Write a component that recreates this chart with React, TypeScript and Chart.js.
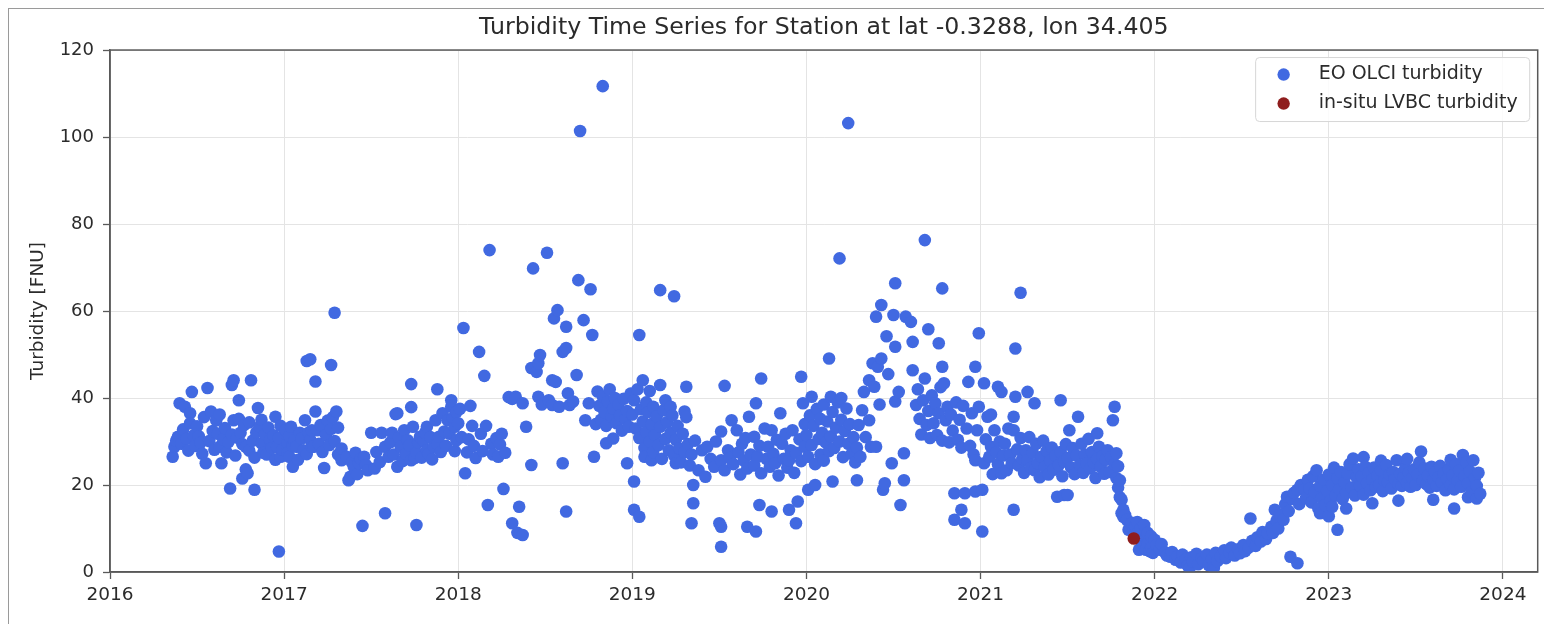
import React, { useEffect, useRef } from "react";
import { Chart, registerables } from "chart.js";

Chart.register(...registerables);

const TITLE = "Turbidity Time Series for Station at lat -0.3288, lon 34.405";
const Y_LABEL = "Turbidity [FNU]";
const SERIES_LABELS = ["EO OLCI turbidity", "in-situ LVBC turbidity"];
const X_TICKS = [2016, 2017, 2018, 2019, 2020, 2021, 2022, 2023, 2024];
const Y_TICKS = [0, 20, 40, 60, 80, 100, 120];

// [decimal year, turbidity FNU]
const eo2016: [number, number][] = [
  [2016.36,26.5],[2016.37,28.8],[2016.38,30.2],[2016.39,31.1],[2016.40,38.8],[2016.41,29.5],[2016.42,32.8],[2016.43,38.0],
  [2016.44,30.6],[2016.45,27.9],[2016.46,36.5],[2016.46,34.2],[2016.47,41.4],[2016.48,31.4],[2016.49,29.0],[2016.50,33.5],
  [2016.51,31.2],[2016.52,29.7],[2016.53,27.2],[2016.54,35.6],[2016.55,25.0],[2016.56,42.3],[2016.57,30.1],[2016.58,36.9],
  [2016.59,32.4],[2016.60,28.1],[2016.61,34.9],[2016.62,31.8],[2016.63,28.8],[2016.63,36.2],[2016.64,25.0],[2016.65,30.5],
  [2016.66,33.1],[2016.67,27.5],[2016.68,29.9],[2016.69,19.2],[2016.70,43.0],[2016.70,31.6],[2016.71,44.1],[2016.71,34.9],
  [2016.72,26.8],[2016.73,30.9],[2016.74,39.5],[2016.74,35.2],[2016.75,32.0],[2016.76,29.4],[2016.76,21.5],[2016.77,33.8],
  [2016.78,28.8],[2016.78,23.6],[2016.79,22.7],[2016.80,27.9],[2016.80,34.4],[2016.81,44.1],[2016.82,30.2],[2016.83,18.9],
  [2016.83,26.3],[2016.84,32.1],[2016.85,37.7],[2016.86,33.4],[2016.87,29.6],[2016.87,35.0],[2016.88,27.4],[2016.89,31.7],
  [2016.90,27.0],[2016.91,33.2],[2016.92,30.3],[2016.93,28.5],[2016.94,31.4],[2016.95,35.7],[2016.95,25.8],[2016.96,28.8],
  [2016.97,30.8],[2016.97,4.7],[2016.98,26.5],[2016.98,33.6],[2016.99,28.1],
];

const eo2017: [number, number][] = [
  [2017.01,32.6],[2017.02,29.7],[2017.02,27.4],[2017.03,26.5],[2017.03,31.2],[2017.04,33.4],[2017.05,24.2],[2017.05,29.0],
  [2017.06,30.3],[2017.07,28.8],[2017.08,25.8],[2017.09,32.0],[2017.10,30.7],[2017.11,28.0],[2017.12,34.9],[2017.13,27.1],
  [2017.13,48.5],[2017.14,32.0],[2017.15,48.9],[2017.15,30.4],[2017.16,32.6],[2017.16,28.8],[2017.17,28.8],[2017.18,36.9],
  [2017.18,43.8],[2017.19,32.6],[2017.20,29.5],[2017.21,33.8],[2017.22,27.6],[2017.23,23.9],[2017.24,31.5],[2017.25,34.8],
  [2017.26,29.2],[2017.27,32.9],[2017.27,47.6],[2017.28,35.6],[2017.29,30.1],[2017.29,59.6],[2017.30,36.9],[2017.31,27.0],
  [2017.31,33.2],[2017.33,28.4],[2017.33,25.7],[2017.36,26.5],[2017.37,21.1],[2017.38,21.9],[2017.39,25.2],[2017.40,24.2],
  [2017.41,27.4],[2017.42,22.5],[2017.43,25.0],[2017.44,26.0],[2017.45,10.6],[2017.46,26.5],[2017.47,24.6],[2017.48,23.4],
  [2017.50,32.0],[2017.52,23.8],[2017.53,27.6],[2017.55,25.3],[2017.56,32.0],[2017.58,28.8],[2017.58,13.5],[2017.60,26.5],
  [2017.61,29.8],[2017.62,32.0],[2017.63,27.0],[2017.64,36.3],[2017.65,24.2],[2017.65,36.5],[2017.66,30.9],[2017.67,28.8],
  [2017.68,25.5],[2017.69,32.6],[2017.70,27.2],[2017.71,30.3],[2017.72,29.1],[2017.73,25.7],[2017.73,43.2],[2017.73,37.9],
  [2017.74,33.4],[2017.75,26.2],[2017.76,27.4],[2017.76,10.8],[2017.77,29.8],[2017.78,31.1],[2017.79,26.3],[2017.80,30.2],
  [2017.81,32.0],[2017.82,33.4],[2017.82,28.0],[2017.83,27.2],[2017.84,31.0],[2017.85,25.9],[2017.86,28.8],[2017.87,34.9],
  [2017.88,42.0],[2017.88,29.5],[2017.89,31.1],[2017.90,27.6],[2017.91,36.5],[2017.92,32.3],[2017.93,29.0],[2017.94,34.9],
  [2017.95,31.8],[2017.96,38.0],[2017.96,39.5],[2017.97,35.4],[2017.98,33.4],[2017.98,27.8],[2017.99,30.3],[2017.99,36.8],
];

const eo2018: [number, number][] = [
  [2018.00,34.2],[2018.01,37.5],[2018.02,31.0],[2018.03,56.1],[2018.04,22.7],[2018.05,27.5],[2018.06,30.5],[2018.07,38.2],
  [2018.08,33.6],[2018.09,29.0],[2018.10,26.2],[2018.12,50.6],[2018.13,31.8],[2018.14,27.8],[2018.15,45.1],[2018.16,33.6],
  [2018.17,15.4],[2018.18,74.0],[2018.19,29.5],[2018.20,27.0],[2018.22,30.8],[2018.23,26.5],[2018.24,29.3],[2018.25,31.8],
  [2018.26,19.1],[2018.27,27.4],[2018.29,40.2],[2018.31,11.2],[2018.31,39.8],[2018.33,40.3],[2018.34,9.0],[2018.35,15.0],
  [2018.37,8.5],[2018.37,38.8],[2018.39,33.4],[2018.42,24.6],[2018.42,46.9],[2018.43,69.8],[2018.45,46.0],[2018.46,48.0],
  [2018.46,40.3],[2018.47,49.9],[2018.48,38.5],[2018.51,73.4],[2018.52,39.5],[2018.54,38.4],[2018.54,44.1],[2018.55,58.3],
  [2018.56,43.7],[2018.57,60.2],[2018.58,38.0],[2018.60,50.6],[2018.60,25.0],[2018.62,51.5],[2018.62,56.4],[2018.62,13.9],
  [2018.63,41.1],[2018.64,38.4],[2018.66,39.2],[2018.68,45.3],[2018.69,67.1],[2018.70,101.4],[2018.72,57.9],[2018.73,34.9],
  [2018.75,38.8],[2018.76,65.0],[2018.77,54.5],[2018.78,26.5],[2018.79,34.0],[2018.80,41.5],[2018.81,38.2],[2018.82,35.0],
  [2018.83,111.7],[2018.83,40.4],[2018.84,36.8],[2018.85,33.6],[2018.85,29.6],[2018.86,39.2],[2018.87,42.0],[2018.88,35.8],
  [2018.89,30.7],[2018.89,37.6],[2018.90,40.0],[2018.91,34.2],[2018.92,38.5],[2018.93,36.0],[2018.94,32.5],[2018.95,39.8],
  [2018.96,35.2],[2018.97,25.0],[2018.97,37.0],[2018.98,33.4],[2018.99,41.0],
];

const eo2019: [number, number][] = [
  [2019.00,36.2],[2019.01,20.8],[2019.01,14.3],[2019.01,39.5],[2019.02,33.0],[2019.03,42.0],[2019.04,12.7],[2019.04,54.5],
  [2019.04,30.8],[2019.05,37.4],[2019.06,44.1],[2019.06,34.6],[2019.07,28.5],[2019.07,26.5],[2019.08,39.0],[2019.08,32.2],
  [2019.09,36.8],[2019.10,30.0],[2019.10,41.6],[2019.11,34.0],[2019.11,25.7],[2019.12,27.6],[2019.12,38.0],[2019.13,31.5],
  [2019.14,35.8],[2019.15,29.2],[2019.16,43.0],[2019.16,64.8],[2019.16,33.4],[2019.17,26.0],[2019.18,37.2],[2019.19,30.6],
  [2019.19,39.5],[2019.20,34.5],[2019.21,28.0],[2019.22,32.0],[2019.22,38.0],[2019.23,36.0],[2019.24,63.4],[2019.24,26.8],
  [2019.25,30.4],[2019.25,25.0],[2019.26,33.6],[2019.27,28.4],[2019.28,25.2],[2019.29,31.8],[2019.30,27.6],[2019.30,36.9],
  [2019.31,42.6],[2019.31,35.6],[2019.32,29.4],[2019.33,24.5],[2019.34,11.2],[2019.34,27.0],[2019.35,15.8],[2019.35,20.0],
  [2019.36,30.2],[2019.38,23.4],[2019.40,28.0],[2019.42,21.9],[2019.43,28.8],[2019.45,26.0],[2019.47,24.2],[2019.48,30.0],
  [2019.50,11.2],[2019.51,10.4],[2019.51,5.8],[2019.51,32.3],[2019.51,25.7],[2019.53,42.8],[2019.53,23.4],[2019.55,28.0],
  [2019.56,26.2],[2019.57,34.9],[2019.58,24.8],[2019.60,32.6],[2019.61,27.5],[2019.62,22.4],[2019.63,29.5],[2019.64,25.6],
  [2019.65,30.8],[2019.66,10.4],[2019.66,23.8],[2019.67,35.7],[2019.68,27.0],[2019.70,31.1],[2019.70,24.5],[2019.71,9.3],
  [2019.71,38.8],[2019.72,26.5],[2019.73,15.4],[2019.73,29.0],[2019.74,44.5],[2019.74,22.7],[2019.76,33.0],[2019.77,26.0],
  [2019.78,28.8],[2019.79,24.2],[2019.80,13.9],[2019.80,32.6],[2019.81,27.2],[2019.82,25.0],[2019.83,30.4],[2019.84,22.2],
  [2019.85,36.5],[2019.86,29.5],[2019.87,26.0],[2019.88,31.8],[2019.89,24.0],[2019.90,14.3],[2019.90,25.7],[2019.91,28.0],
  [2019.92,32.6],[2019.93,22.8],[2019.94,11.2],[2019.94,27.4],[2019.95,16.2],[2019.96,30.5],[2019.97,44.9],[2019.97,25.5],
  [2019.98,38.8],[2019.99,28.8],[2019.99,34.0],
];

const eo2020: [number, number][] = [
  [2020.00,31.5],[2020.01,18.9],[2020.01,26.5],[2020.02,36.0],[2020.03,40.3],[2020.03,29.2],[2020.04,33.6],[2020.05,20.0],
  [2020.05,24.8],[2020.06,37.5],[2020.07,30.6],[2020.08,27.0],[2020.08,35.2],[2020.09,32.0],[2020.10,38.5],[2020.10,25.6],
  [2020.11,29.8],[2020.12,34.6],[2020.13,49.1],[2020.13,27.8],[2020.14,40.3],[2020.14,31.2],[2020.15,20.8],[2020.15,36.8],
  [2020.16,28.5],[2020.17,33.2],[2020.18,39.0],[2020.19,72.1],[2020.19,30.0],[2020.20,40.0],[2020.20,35.0],[2020.21,26.4],
  [2020.22,32.4],[2020.23,37.6],[2020.24,103.2],[2020.24,29.5],[2020.25,34.0],[2020.26,27.2],[2020.27,31.0],[2020.28,25.2],
  [2020.29,21.1],[2020.29,28.6],[2020.30,33.8],[2020.31,26.5],[2020.32,37.2],[2020.33,41.4],[2020.34,31.0],[2020.36,34.9],
  [2020.36,44.1],[2020.37,28.8],[2020.38,48.0],[2020.39,42.6],[2020.40,58.7],[2020.40,28.8],[2020.41,47.2],[2020.42,38.5],
  [2020.43,61.4],[2020.43,49.1],[2020.44,18.9],[2020.45,20.4],[2020.46,54.2],[2020.47,45.5],[2020.49,25.0],[2020.50,59.1],
  [2020.51,66.4],[2020.51,51.8],[2020.51,39.2],[2020.53,41.4],[2020.54,15.4],[2020.56,27.3],[2020.56,21.1],[2020.57,58.7],
  [2020.60,57.5],[2020.61,52.9],[2020.61,46.4],[2020.63,38.4],[2020.64,42.0],[2020.65,35.2],[2020.66,31.6],[2020.67,39.5],
  [2020.68,76.3],[2020.68,44.5],[2020.69,33.8],[2020.70,55.8],[2020.70,37.0],[2020.71,30.8],[2020.72,40.6],[2020.73,34.2],
  [2020.74,38.8],[2020.75,31.5],[2020.76,52.6],[2020.76,36.5],[2020.77,42.5],[2020.78,65.2],[2020.78,47.2],[2020.78,30.2],
  [2020.79,43.4],[2020.80,34.9],[2020.81,38.0],[2020.82,29.8],[2020.83,36.2],[2020.84,32.5],[2020.85,18.1],[2020.85,12.0],
  [2020.86,39.0],[2020.87,30.4],[2020.88,35.0],[2020.89,14.3],[2020.89,28.6],[2020.90,38.2],[2020.91,18.1],[2020.91,11.2],
  [2020.92,33.0],[2020.93,43.7],[2020.94,29.0],[2020.95,36.5],[2020.96,27.0],[2020.97,47.2],[2020.97,18.5],[2020.97,25.7],
  [2020.98,32.6],[2020.99,54.9],[2020.99,38.0],
];

const eo2021: [number, number][] = [
  [2021.01,18.9],[2021.01,9.3],[2021.02,43.4],[2021.02,25.0],[2021.03,30.5],[2021.04,35.7],[2021.05,26.5],[2021.06,28.8],
  [2021.06,36.2],[2021.07,22.5],[2021.08,32.6],[2021.09,27.5],[2021.10,42.6],[2021.10,24.8],[2021.11,30.0],[2021.12,41.4],
  [2021.12,22.7],[2021.13,26.8],[2021.14,29.5],[2021.15,23.4],[2021.16,33.0],[2021.17,27.0],[2021.18,25.0],[2021.19,14.3],
  [2021.19,35.7],[2021.19,32.6],[2021.20,51.4],[2021.20,40.3],[2021.21,28.2],[2021.22,24.5],[2021.23,64.2],[2021.23,30.8],
  [2021.24,26.0],[2021.25,22.8],[2021.26,28.0],[2021.27,41.4],[2021.27,25.7],[2021.28,31.0],[2021.29,24.0],[2021.30,27.4],
  [2021.31,38.8],[2021.31,23.4],[2021.32,29.5],[2021.33,25.0],[2021.34,21.8],[2021.35,26.5],[2021.36,30.2],[2021.37,24.2],
  [2021.38,27.8],[2021.39,22.4],[2021.40,25.6],[2021.41,28.6],[2021.42,23.5],[2021.43,26.8],[2021.44,17.3],[2021.45,24.6],
  [2021.46,39.5],[2021.46,27.6],[2021.47,22.0],[2021.48,17.7],[2021.48,25.4],[2021.49,29.4],[2021.50,17.7],[2021.50,26.2],
  [2021.51,32.6],[2021.52,24.0],[2021.53,28.5],[2021.54,22.5],[2021.55,26.8],[2021.56,35.7],[2021.57,24.6],[2021.58,29.5],
  [2021.59,22.8],[2021.60,27.0],[2021.61,25.0],[2021.62,30.6],[2021.63,23.8],[2021.64,27.6],[2021.65,25.2],[2021.66,21.6],
  [2021.67,31.9],[2021.67,26.0],[2021.68,28.8],[2021.69,24.2],[2021.70,26.6],[2021.71,22.6],[2021.72,25.8],[2021.73,28.0],
  [2021.74,23.0],[2021.75,26.4],[2021.76,34.9],[2021.77,38.0],[2021.77,24.8],[2021.78,27.3],[2021.78,21.6],[2021.79,24.3],
  [2021.79,19.4],[2021.80,21.1],[2021.80,17.2],[2021.81,16.6],[2021.81,13.5],[2021.82,14.3],[2021.82,12.7],[2021.83,13.1],
  [2021.84,12.0],[2021.85,9.7],[2021.86,10.4],[2021.87,11.3],[2021.88,9.7],[2021.89,10.4],[2021.90,8.9],[2021.90,11.5],
  [2021.91,5.1],[2021.92,7.4],[2021.92,10.0],[2021.93,7.0],[2021.94,6.0],[2021.94,10.8],[2021.95,5.1],[2021.96,6.5],
  [2021.96,9.0],[2021.97,4.8],[2021.98,5.6],[2021.98,8.2],[2021.99,4.4],
];

const eo2022: [number, number][] = [
  [2022.00,7.4],[2022.01,6.2],[2022.03,5.1],[2022.04,6.4],[2022.06,4.5],[2022.07,3.8],[2022.09,3.5],[2022.10,4.6],
  [2022.12,2.8],[2022.13,3.6],[2022.15,2.2],[2022.16,4.0],[2022.18,3.0],[2022.19,1.5],[2022.20,0.8],[2022.21,3.4],
  [2022.22,2.4],[2022.24,4.2],[2022.25,1.8],[2022.27,3.2],[2022.28,2.6],[2022.30,4.0],[2022.31,1.6],[2022.33,3.0],
  [2022.34,0.9],[2022.35,4.4],[2022.36,2.5],[2022.38,3.6],[2022.40,5.0],[2022.41,3.2],[2022.43,4.4],[2022.44,5.6],
  [2022.46,3.8],[2022.48,5.2],[2022.49,4.3],[2022.51,6.2],[2022.52,4.8],[2022.54,5.6],[2022.55,12.3],[2022.56,7.2],
  [2022.58,6.0],[2022.59,8.0],[2022.61,7.0],[2022.62,9.2],[2022.64,7.6],[2022.65,8.9],[2022.67,10.4],[2022.68,9.0],
  [2022.69,14.3],[2022.70,11.8],[2022.71,10.0],[2022.72,13.2],[2022.74,12.0],[2022.75,15.6],[2022.76,17.3],[2022.77,14.0],
  [2022.78,3.5],[2022.79,16.8],[2022.80,18.2],[2022.82,2.0],[2022.82,18.9],[2022.83,15.6],[2022.84,20.0],[2022.86,18.9],
  [2022.87,17.0],[2022.88,21.2],[2022.89,19.2],
];

const eo2023: [number, number][] = [
  [2022.90,16.0],[2022.91,22.0],[2022.92,18.4],[2022.93,23.4],[2022.94,14.6],[2022.95,19.8],[2022.95,13.5],[2022.96,17.0],
  [2022.97,21.2],[2022.98,15.4],[2022.99,18.6],[2023.00,22.4],[2023.00,12.8],[2023.01,16.4],[2023.02,20.0],[2023.02,15.0],
  [2023.03,24.0],[2023.04,17.6],[2023.05,9.7],[2023.05,21.6],[2023.06,19.0],[2023.07,23.0],[2023.08,16.8],[2023.09,20.6],
  [2023.10,18.2],[2023.10,14.6],[2023.11,22.6],[2023.12,24.8],[2023.13,19.4],[2023.14,26.1],[2023.15,17.6],[2023.16,21.8],
  [2023.17,23.6],[2023.18,19.8],[2023.19,22.0],[2023.20,17.8],[2023.20,26.4],[2023.21,24.2],[2023.22,20.4],[2023.23,22.8],
  [2023.24,18.8],[2023.25,21.2],[2023.25,15.8],[2023.26,24.0],[2023.27,19.6],[2023.28,22.2],[2023.29,20.0],[2023.30,23.4],
  [2023.30,25.6],[2023.31,18.6],[2023.32,21.0],[2023.33,24.6],[2023.34,20.6],[2023.35,22.4],[2023.36,19.2],[2023.37,23.0],
  [2023.38,21.4],[2023.39,25.7],[2023.40,20.2],[2023.40,16.4],[2023.41,22.6],[2023.42,19.8],[2023.43,21.8],[2023.44,24.0],
  [2023.45,20.4],[2023.45,26.0],[2023.46,22.8],[2023.47,19.6],[2023.48,21.6],[2023.49,23.6],[2023.50,20.0],[2023.51,22.4],
  [2023.52,25.2],[2023.53,27.7],[2023.54,21.0],[2023.55,23.8],[2023.56,20.2],[2023.57,22.2],[2023.58,19.4],[2023.59,24.2],
  [2023.60,21.2],[2023.60,16.6],[2023.61,23.0],[2023.62,19.8],[2023.63,21.8],[2023.64,24.4],[2023.65,20.6],[2023.66,22.6],
  [2023.67,18.8],[2023.68,21.4],[2023.69,23.6],[2023.70,20.0],[2023.70,25.8],[2023.71,22.2],[2023.72,14.6],[2023.72,19.0],
  [2023.73,24.8],[2023.74,21.0],[2023.75,23.4],[2023.76,19.6],[2023.77,26.9],[2023.78,22.0],[2023.79,25.2],[2023.80,20.4],
  [2023.80,17.2],[2023.81,23.2],[2023.82,18.4],[2023.83,25.7],[2023.84,21.6],[2023.85,16.9],[2023.85,19.8],[2023.86,22.8],
  [2023.87,18.0],
];

const insituLVBC: [number, number][] = [[2021.88, 7.7]];

const FONT = "'DejaVu Sans', sans-serif";
const TEXT = "#2b2b2b";
const BLUE = "#4169E1";
const RED = "#8f1d1d";

const toXY = (arr: [number, number][]) => arr.map(([x, y]) => ({ x, y }));

const framePlugin = {
  id: "frameAndLegend",
  afterDatasetsDraw(chart: any) {
    const { ctx, chartArea: a } = chart;
    ctx.save();
    ctx.strokeStyle = "#595959";
    ctx.lineWidth = 1.5;
    ctx.strokeRect(a.left, a.top, a.right - a.left, a.bottom - a.top);

    // legend, matplotlib style, upper right inside axes
    const items = [0, 1].map((i) => ({
      label: chart.data.datasets[i].label as string,
      color: chart.data.datasets[i].backgroundColor as string,
    }));
    ctx.font = `19px ${FONT}`;
    const maxW = Math.max(...items.map((it) => ctx.measureText(it.label).width));
    const w = 63 + maxW + 12;
    const h = 64;
    const x0 = a.right - 8 - w;
    const y0 = a.top + 7.5;
    const r = 4;
    ctx.beginPath();
    ctx.moveTo(x0 + r, y0);
    ctx.lineTo(x0 + w - r, y0);
    ctx.quadraticCurveTo(x0 + w, y0, x0 + w, y0 + r);
    ctx.lineTo(x0 + w, y0 + h - r);
    ctx.quadraticCurveTo(x0 + w, y0 + h, x0 + w - r, y0 + h);
    ctx.lineTo(x0 + r, y0 + h);
    ctx.quadraticCurveTo(x0, y0 + h, x0, y0 + h - r);
    ctx.lineTo(x0, y0 + r);
    ctx.quadraticCurveTo(x0, y0, x0 + r, y0);
    ctx.closePath();
    ctx.fillStyle = "rgba(255,255,255,0.85)";
    ctx.fill();
    ctx.strokeStyle = "#d6d6d6";
    ctx.lineWidth = 1;
    ctx.stroke();
    items.forEach((it, i) => {
      const cy = y0 + 17 + i * 29;
      ctx.beginPath();
      ctx.arc(x0 + 28, cy, 6.2, 0, Math.PI * 2);
      ctx.fillStyle = it.color;
      ctx.fill();
      ctx.fillStyle = TEXT;
      ctx.textAlign = "left";
      ctx.textBaseline = "middle";
      ctx.fillText(it.label, x0 + 63, cy);
    });
    ctx.restore();
  },
};

export default function App() {
  const ref = useRef<HTMLCanvasElement | null>(null);

  useEffect(() => {
    if (!ref.current) return;
    const eoAll = [...eo2016, ...eo2017, ...eo2018, ...eo2019, ...eo2020, ...eo2021, ...eo2022, ...eo2023];
    const chart = new Chart(ref.current, {
      type: "scatter",
      data: {
        datasets: [
          {
            label: SERIES_LABELS[0],
            data: toXY(eoAll),
            backgroundColor: BLUE,
            borderWidth: 0,
            pointRadius: 6.3,
            order: 1,
            clip: 0,
          },
          {
            label: SERIES_LABELS[1],
            data: toXY(insituLVBC),
            backgroundColor: RED,
            borderWidth: 0,
            pointRadius: 6.3,
            order: 0,
            clip: 0,
          },
        ],
      },
      options: {
        animation: false,
        responsive: false,
        maintainAspectRatio: false,
        layout: { padding: { left: 0, right: 2.5, top: 0, bottom: 0 } },
        plugins: {
          legend: { display: false },
          tooltip: { enabled: false },
          title: {
            display: true,
            fullSize: false,
            text: TITLE,
            color: TEXT,
            font: { family: FONT, size: 23.7, weight: "normal" },
            padding: { top: 4.8, bottom: 7.8 },
          },
        },
        scales: {
          x: {
            type: "linear",
            min: 2016,
            max: 2024.2,
            afterBuildTicks: (s: any) => {
              s.ticks = X_TICKS.map((v) => ({ value: v }));
            },
            afterFit: (s: any) => {
              s.height = 52;
            },
            ticks: {
              color: TEXT,
              font: { family: FONT, size: 18.5 },
              padding: 5,
              maxRotation: 0,
              autoSkip: false,
              callback: (v: any) => String(v),
            },
            grid: {
              color: "#e4e4e4",
              lineWidth: 1,
              drawTicks: true,
              tickLength: 7,
              tickColor: "#595959",
              tickWidth: 1.3,
            },
            border: { display: true, color: "#595959", width: 1.5 },
          },
          y: {
            type: "linear",
            min: 0,
            max: 120,
            afterBuildTicks: (s: any) => {
              s.ticks = Y_TICKS.map((v) => ({ value: v }));
            },
            afterFit: (s: any) => {
              s.width = 101;
            },
            ticks: {
              color: TEXT,
              font: { family: FONT, size: 18 },
              padding: 9,
              callback: (v: any) => String(v),
            },
            grid: {
              color: "#e4e4e4",
              lineWidth: 1,
              drawTicks: true,
              tickLength: 7,
              tickColor: "#595959",
              tickWidth: 1.3,
            },
            border: { display: true, color: "#595959", width: 1.5 },
            title: {
              display: true,
              text: Y_LABEL,
              color: TEXT,
              font: { family: FONT, size: 18.5 },
              padding: { top: 18, bottom: 0 },
            },
          },
        },
      },
      plugins: [framePlugin],
    });
    return () => chart.destroy();
  }, []);

  return (
    <div
      style={{
        position: "fixed",
        left: 8,
        top: 8,
        width: 1536,
        height: 616,
        boxSizing: "border-box",
        borderLeft: "1px solid #9a9a9a",
        borderTop: "1px solid #9a9a9a",
        background: "#fff",
      }}
    >
      <canvas ref={ref} width={1535} height={615} style={{ display: "block" }} />
    </div>
  );
}
